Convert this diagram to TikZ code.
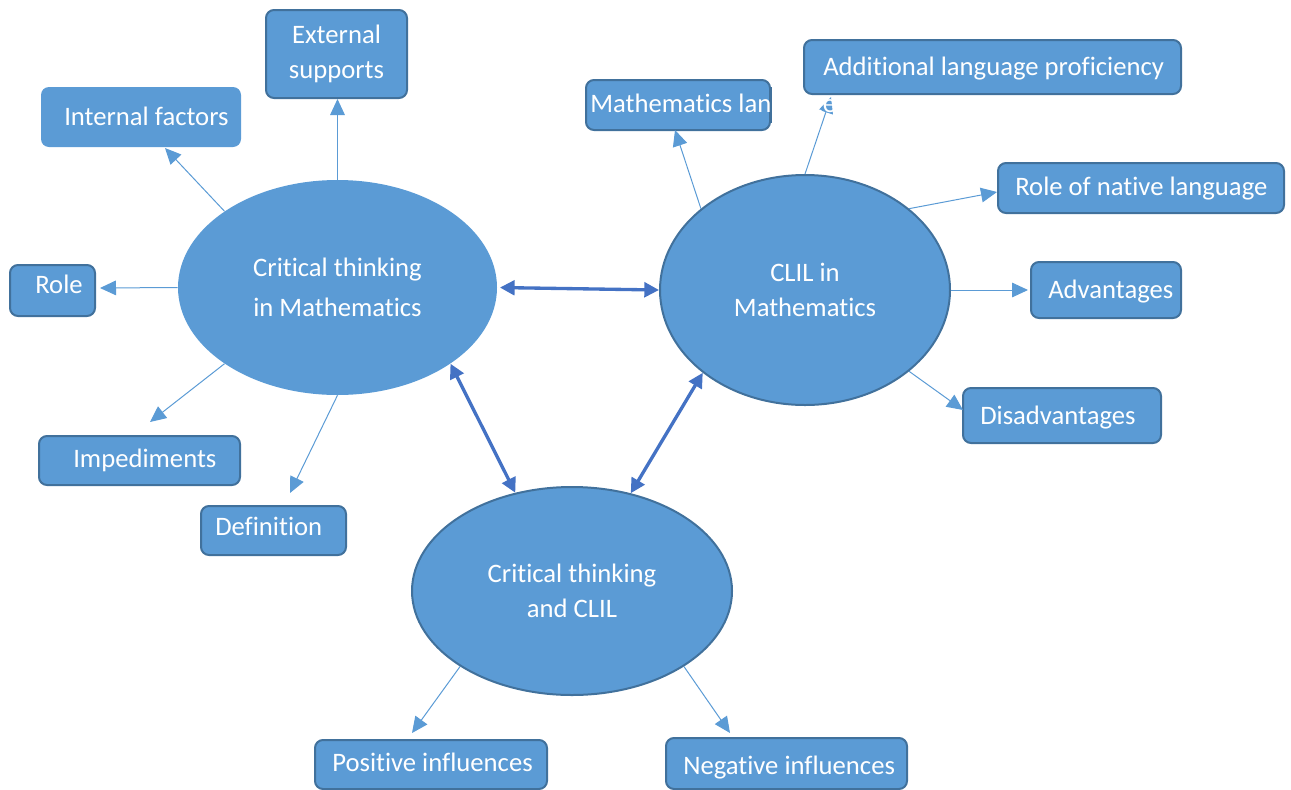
\documentclass[tikz,border=0pt]{standalone}
\usepackage{fontspec}
\setmainfont{Carlito}[Ligatures=NoCommon]
\usetikzlibrary{shapes.geometric,arrows.meta}
\definecolor{cfill}{HTML}{5B9BD5}
\definecolor{cline}{HTML}{41719C}
\definecolor{clink}{HTML}{4472C4}

\tikzset{
  every node/.style={font=\fontsize{20pt}{26.25pt}\selectfont, text=white},
  hub/.style={ellipse, fill=cfill, inner sep=0pt, align=center},
  hubline/.style={draw=cline, line width=1.5pt},
  tbox/.style={rectangle, rounded corners=6pt, fill=cfill, draw=cline, line width=1.5pt, inner sep=0pt},
  lbl/.style={anchor=base west, inner sep=0pt},
  spoke/.style={draw=cfill, line width=0.75pt, -{Triangle[length=12pt,width=11pt]}},
  link/.style={draw=clink, line width=2.5pt,
    {Triangle[length=11pt,width=11pt]}-{Triangle[length=11pt,width=11pt]}},
}

\begin{document}
\begin{tikzpicture}[x=0.75pt,y=-0.75pt]
\useasboundingbox (0,0) rectangle (1291,789);

% central topics
\node[hub, minimum width=239.25pt, minimum height=161.25pt,
      font=\fontsize{20pt}{30pt}\selectfont] (ctm) at (337.5,287.5) {Critical thinking\\in Mathematics};
\node[hub, hubline, minimum width=217.5pt, minimum height=172.5pt] (clil) at (805,290) {CLIL in\\Mathematics};
\node[hub, hubline, minimum width=240pt, minimum height=156pt] (ctc) at (572,591) {Critical thinking\\and CLIL};

% subtopic boxes
\node[tbox, minimum width=105.75pt, minimum height=66pt, align=center] (ext) at (336.5,54) {External\\supports};
\node[tbox, draw=none, minimum width=150pt, minimum height=45pt] (int) at (141,117) {};
\node[tbox, minimum width=63.75pt, minimum height=38.25pt] (role) at (52.5,290.5) {};
\node[tbox, minimum width=150.75pt, minimum height=36.75pt] (imp) at (139.5,460.5) {};
\node[tbox, minimum width=108.75pt, minimum height=36.75pt] (def) at (273.5,530.5) {};
\node[tbox, minimum width=138pt, minimum height=37.5pt] (ml) at (678,105) {};
\node[tbox, minimum width=282.75pt, minimum height=40.5pt] (add) at (992.5,67) {};
\node[tbox, minimum width=214.5pt, minimum height=37.5pt] (rnl) at (1141,188) {};
\node[tbox, minimum width=112.5pt, minimum height=42pt] (adv) at (1106,290) {};
\node[tbox, minimum width=148.5pt, minimum height=41.25pt] (dis) at (1062,415.5) {};
\node[tbox, minimum width=174pt, minimum height=36.75pt] (pos) at (431,764.5) {};
\node[tbox, minimum width=180.75pt, minimum height=38.25pt] (neg) at (786.5,763.5) {};

% arrow tips
\coordinate (tip-int) at (165,148);
\coordinate (tip-role) at (100,288);
\coordinate (tip-imp) at (150,422);
\coordinate (tip-def) at (290,493);
\coordinate (tip-ml) at (675,130);
\coordinate (tip-add) at (831,97);
\coordinate (tip-rnl) at (997,192);
\coordinate (tip-adv) at (1028,290);
\coordinate (tip-dis) at (963,410);
\coordinate (tip-pos) at (412,733);
\coordinate (tip-neg) at (730,733);

% spokes
\draw[spoke] (ctm.90) -- (ctm.90 |- ext.south);
\draw[spoke] (ctm.146) -- (tip-int);
\draw[spoke] (ctm.180) -- (tip-role);
\draw[spoke] (ctm.214) -- (tip-imp);
\draw[spoke] (ctm.270) -- (tip-def);
\draw[spoke] (clil.142) -- (tip-ml);
\draw[spoke] (clil.90) -- (tip-add);
\draw[spoke] (clil.38) -- (tip-rnl);
\draw[spoke] (clil.0) -- (tip-adv);
\draw[spoke] (clil.-38.5) -- (tip-dis);
\draw[spoke] (ctc.214) -- (tip-pos);
\draw[spoke] (ctc.-34) -- (tip-neg);

% links between the central topics
\draw[link, shorten <=2pt] (ctm.0) -- (clil.180);
\draw[link] (ctm.-34) -- (ctc.120);
\draw[link] (clil.219) -- (ctc.59);

% box labels
\node[lbl] (int-t) at (64,125) {Internal factors};
\node[lbl] (role-t) at (35,293) {Role};
\node[lbl] (imp-t) at (73,467) {Impediments};
\node[lbl] (def-t) at (215,535) {Definition};
\node[lbl] (add-t) at (823,75) {Additional language proficiency};
\node[lbl] (rnl-t) at (1015,195) {Role of native language};
\node[lbl] (adv-t) at (1048,298) {Advantages};
\node[lbl] (dis-t) at (980,424) {Disadvantages};
\node[lbl] (pos-t) at (332,771) {Positive influences};
\node[lbl] (neg-t) at (683,774) {Negative influences};
\node[lbl] (ml-t) at (590,112) {Mathematics language};
% keep the right edge of the box intact over the overflowing label
\draw[cline, line width=1.5pt] ([yshift=-6pt]ml.north east) -- ([yshift=6pt]ml.south east);
\end{tikzpicture}
\end{document}
